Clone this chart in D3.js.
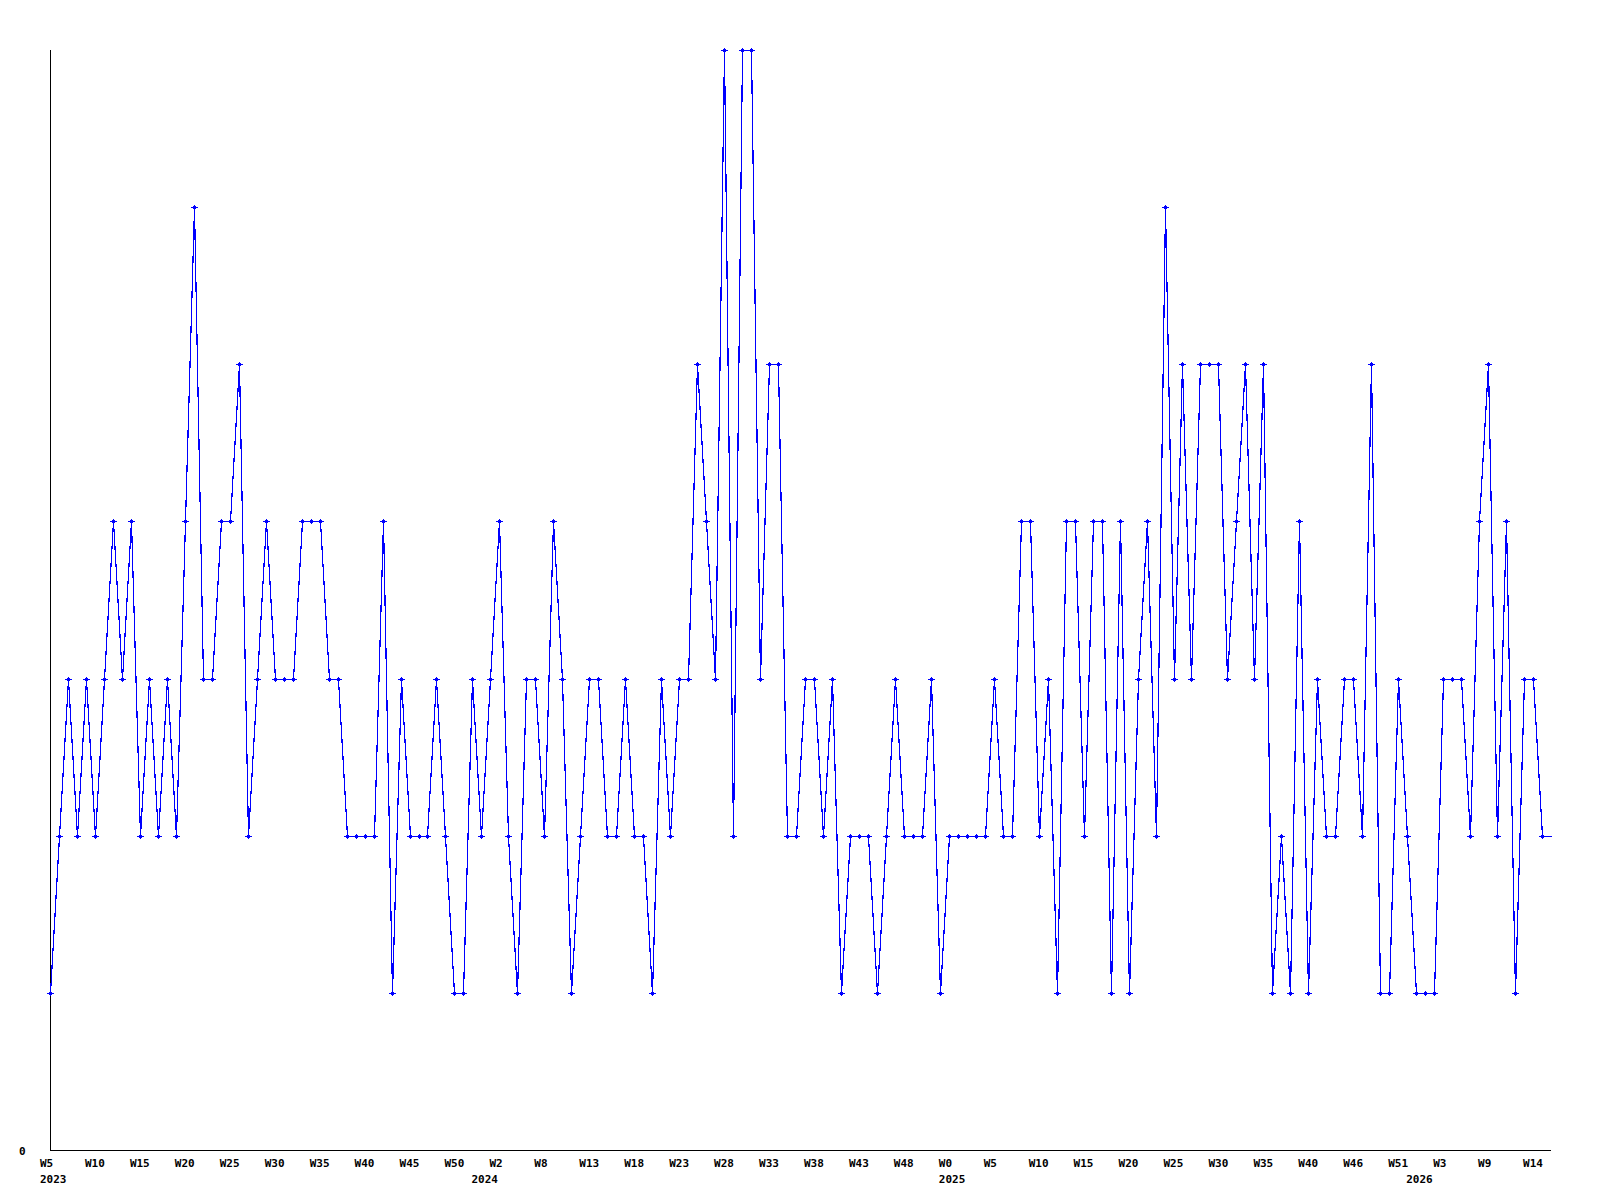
<!DOCTYPE html>
<html>
<head>
<meta charset="utf-8">
<script src="https://cdn.jsdelivr.net/npm/d3@7"></script>
<style>
  body { margin: 0; background: #fff; }
  text { font-family: "DejaVu Sans Mono", monospace; font-weight: bold; font-size: 11px; fill: #000; }
</style>
</head>
<body>
<div id="chart"></div>
<script>
const width = 1600
const height = 1200
const margin = { left: 50, right: 49, top: 50, bottom: 50 }

// weekly values, 2023 W5 onward
const values = [
  1,2,3,2,3,2,3,4,3,4, 2,3,2,3,2,4,6,3,3,4, 4,5,2,3,4,3,3,3,4,4,
  4,3,3,2,2,2,2,4,1,3, 2,2,2,3,2,1,1,3,2,3, 4,2,1,3,3,2,4,3,1,2,
  3,3,2,2,3,2,2,1,3,2, 3,3,5,4,3,7,2,7,7,3, 5,5,2,2,3,3,2,3,1,2,
  2,2,1,2,3,2,2,2,3,1, 2,2,2,2,2,3,2,2,4,4, 2,3,1,4,4,2,4,4,1,4,
  1,3,4,2,6,3,5,3,5,5, 5,3,4,5,3,5,1,2,1,4, 1,3,2,2,3,3,2,5,1,1,
  3,2,1,1,1,3,3,3,2,4, 5,2,4,1,3,3,2,2
]
const tickIndex = d3.range(0, 166, 5)
const tickLabels = ["W5","W10","W15","W20","W25","W30","W35","W40","W45","W50",
  "W2","W8","W13","W18","W23","W28","W33","W38","W43","W48",
  "W0","W5","W10","W15","W20","W25","W30","W35","W40","W46",
  "W51","W3","W9","W14"]
const yearIndex = [0, 48, 100, 152]
const yearLabels = ["2023", "2024", "2025", "2026"]
const yMax = 7

const svg = d3.select("#chart").append("svg").attr("width", width).attr("height", height)

const x = d3.scaleLinear().domain([0, values.length - 1]).range([margin.left, width - margin.right])
const y = d3.scaleLinear().domain([0, yMax]).range([height - margin.bottom, margin.top])

// axes as plain lines, no ticks
svg.append("line")
    .attr("x1", margin.left + 0.5).attr("x2", margin.left + 0.5)
    .attr("y1", margin.top).attr("y2", height - margin.bottom)
    .attr("stroke", "#000")
svg.append("line")
    .attr("x1", margin.left).attr("x2", width - margin.right)
    .attr("y1", height - margin.bottom + 0.5).attr("y2", height - margin.bottom + 0.5)
    .attr("stroke", "#000")

svg.append("text").text("0").attr("x", 19).attr("y", y(0) + 5)

svg.selectAll(".wk")
    .data(tickIndex)
    .join("text")
    .attr("class", "wk")
    .attr("x", (d) => x(d) - 10)
    .attr("y", height - margin.bottom + 17)
    .text((d, i) => tickLabels[i])

svg.selectAll(".yr")
    .data(yearIndex)
    .join("text")
    .attr("class", "yr")
    .attr("x", (d) => x(d) - 10)
    .attr("y", height - margin.bottom + 33)
    .text((d, i) => yearLabels[i])

const line = d3.line().x((d, i) => Math.round(x(i)) + 0.5).y((d) => Math.round(y(d)) + 0.5)

svg.append("path")
    .datum(values)
    .attr("d", line)
    .attr("fill", "none")
    .attr("stroke", "#0000ff")
    .attr("stroke-width", 1.2)
    .attr("shape-rendering", "crispEdges")

// plus markers (last, unfinished week has none)
svg.selectAll(".mk")
    .data(values.slice(0, values.length - 1))
    .join("path")
    .attr("class", "mk")
    .attr("d", (d, i) => {
        const cx = Math.round(x(i)), cy = Math.round(y(d))
        return `M${cx - 3},${cy}h7v1h-7z` +
            `M${cx},${cy - 2}h1v5h-1z` +
            `M${cx - 1},${cy - 1}h3v3h-3z`
    })
    .attr("fill", "#0000ff")
    .attr("shape-rendering", "crispEdges")
</script>
</body>
</html>
